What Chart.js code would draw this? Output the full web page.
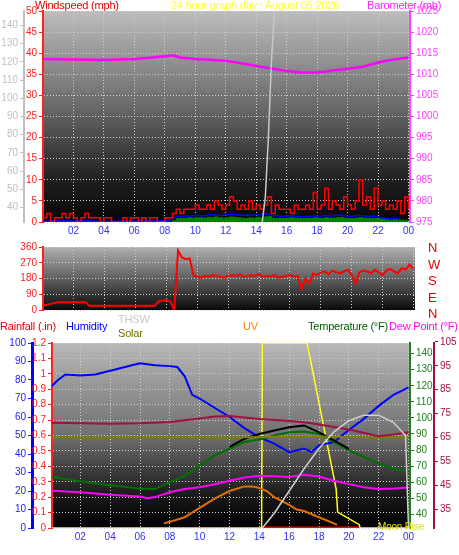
<!DOCTYPE html>
<html><head><meta charset="utf-8">
<script src="https://cdn.jsdelivr.net/npm/chart.js@4.4.1/dist/chart.umd.min.js"></script>
<style>
body{margin:0;background:#fff;width:459px;height:555px;position:relative;overflow:hidden;font-family:"Liberation Sans",Arial,sans-serif}
canvas{position:absolute;left:0}
.t{position:absolute;font-size:11px;white-space:nowrap;line-height:12px;letter-spacing:-0.2px}
</style></head><body>
<canvas id="top" width="459" height="240" style="top:0"></canvas>
<canvas id="mid" width="459" height="80" style="top:238px"></canvas>
<canvas id="bot" width="459" height="220" style="top:335px"></canvas>
<div class="t" style="left:35px;top:-1px;color:#e00000">Windspeed (mph)</div>
<div class="t" style="left:171px;top:-1px;color:#ffff30">24 hour graph day : August 05 2026</div>
<div class="t" style="left:367px;top:-1px;color:#ff20ff">Barometer (mb)</div>
<div class="t" style="left:428px;top:240px;color:#e00000;font-size:13px;line-height:16.5px">N<br>W<br>S<br>E<br>N</div>
<div class="t" style="left:0;top:320px;color:#e00000">Rainfall (.in)</div>
<div class="t" style="left:66px;top:320px;color:#0000ff">Humidity</div>
<div class="t" style="left:118px;top:313px;color:#c8c8c8">THSW</div>
<div class="t" style="left:118px;top:327px;color:#707000">Solar</div>
<div class="t" style="left:243px;top:320px;color:#ff8000">UV</div>
<div class="t" style="left:308px;top:320px;color:#006000">Temperature (°F)</div>
<div class="t" style="left:389px;top:320px;color:#ff00ff">Dew Point (°F)</div>
<div class="t" style="left:378px;top:521px;color:#e0e000;font-size:10px">Moon Rise</div>
<script>
// ---- data (hours 0..24) ----
const windStep = 0.25;
const windSpeed = [1,2,0,1,1,2,1,2,1,0,1,2,1,1,1,0,1,1,0,0,0,1,0,1,1,0,1,0,1,1,0,0,1,1,
  2,3,2,3,3,3,4,3,3,4,3,5,4,3,4,6,5,3,4,3,5,3,4,3,4,6,2,4,3,3,3,2,4,3,3,4,3,7,3,4,8,3,5,4,3,6,4,3,5,10,4,6,3,8,4,5,3,4,3,5,2,6,3];
const windAvg = [0.3,0.3,0.2,0.3,0.3,0.3,0.3,0.3,0.2,0.2,0.3,0.3,0.3,0.3,0.2,0.2,0.2,0.2,0.2,0.2,0.2,0.2,0.2,0.2,0.2,0.2,0.2,0.2,0.2,0.3,0.3,0.3,0.3,0.4,
  0.8,1.2,1.4,1.3,1.5,1.4,1.6,1.5,1.4,1.6,1.7,1.8,1.6,1.5,1.7,1.8,1.9,1.7,1.6,1.5,1.7,1.6,1.8,1.7,1.9,2.0,1.6,1.5,1.4,1.3,1.4,1.5,1.4,1.3,1.2,1.4,1.3,1.5,1.4,1.3,1.6,1.5,1.4,1.6,1.7,1.5,1.4,1.3,1.5,1.6,1.4,1.5,1.3,1.4,1.2,1.0,0.9,0.8,0.9,0.7,0.6,0.5,0.5];
const windLow = [0,0,0,0,0,0,0,0,0,0,0,0,0,0,0,0,0,0,0,0,0,0,0,0,0,0,0,0,0,0,0,0,0,0,
  0.3,0.8,0.9,0.8,1.0,0.9,1.0,1.0,0.9,1.1,1.0,1.2,1.0,0.9,1.0,1.2,1.1,1.0,0.9,0.8,1.0,0.9,1.1,1.0,1.2,1.3,0.9,0.8,0.9,0.8,0.9,1.0,0.9,0.8,0.8,0.9,0.8,1.0,0.9,0.8,1.0,0.9,0.9,1.0,1.1,0.9,0.8,0.8,0.9,1.0,0.9,0.9,0.8,0.8,0.7,0.6,0.5,0.4,0.5,0.4,0.3,0.3,0.3];
const windDir = [25,30,35,40,45,45,45,45,45,45,45,45,25,25,25,25,25,25,25,25,25,25,25,25,25,25,25,25,25,25,50,55,55,50,0,340,300,290,295,200,
  190,185,195,190,200,195,190,185,195,200,195,205,190,195,200,195,205,190,195,190,200,185,190,195,200,190,195,
  120,180,150,210,200,215,220,205,225,215,210,220,230,200,150,215,225,220,210,230,215,200,225,235,220,210,240,230,260,235];
const baroHours = [0,2,4,6,7,8,8.5,9,10,12,13,14,15,15.5,16,17,18,18.5,19,20,21,22,23,24];
const baroVals = [1013.6,1013.5,1013.4,1013.6,1013.9,1014.3,1014.5,1014.0,1013.6,1013.2,1012.6,1012.0,1011.4,1011.1,1010.8,1010.4,1010.5,1010.6,1010.9,1011.3,1011.8,1012.8,1013.5,1014.0];
const thswSpikeHours = [14.4,14.6,14.8,15.0,15.2];
const thswSpikeVals = [0,6,20,38,50];

const humHours = [0,0.5,1,2,3,4,5,6,7,8,8.5,9,9.5,10,11,12,13,14,15,16,17,17.5,18,19,20,21,22,23,24];
const humVals = [76,80,83,82.5,83,85,87,89,88,87.5,87,82,72,70,65,60,54,49,45.6,41,43,41,44.7,46.5,53,59,66,72,76];
const tempHours = [0,2,4,6,7,8,9,10,11,12,13,14,15,16,17,18,19,20,21,22,23,24];
const tempVals = [63.3,60.6,58.1,56,55.7,60,64,70.5,76.7,80.8,85,86.6,89,91,91.5,90,85,79.8,75.7,71.5,68.4,66.4];
const thswHours = [12,13,14,15,16,17,18,19,20];
const thswVals = [82,87,90,92.2,94.2,95.3,91,86,80.8];
const solarHours = [0,3,6,9,12,15,18,21,24];
const solarVals = [88,87.8,88,88,87.8,88.2,88.4,88,88];
const inTempHours = [0,2,4,6,8,10,11,12,14,16,17,18,20,22,23,24];
const inTempVals = [71.2,71,70.8,71,71.5,73,73.8,74,72.8,72,71.4,70.5,68.4,65.6,66.3,67.3];
const dewHours = [0,2,4,6,6.5,7,8,9,10,11,12,13,14,15,16,17,18,19,20,21,22,23,24];
const dewVals = [42.9,42.2,41.2,40.4,39.7,40.2,42.2,43.6,44.3,45.6,47,48.4,49.1,48.9,48.6,49.5,48.8,47,45.6,44.3,43.6,43.8,44.2];
const uvHours = [7.6,8,9,10,11,12,13,13.5,14,14.5,15,16,16.5,17,18,19,19.2];
const uvVals = [0.03,0.04,0.07,0.13,0.19,0.24,0.27,0.27,0.26,0.24,0.2,0.15,0.12,0.11,0.07,0.03,0.02];
const solarRadHours = [0,14.15,14.2,17.2,19.15,19.25,20.7,20.75,24];
const solarRadVals = [0,0,100,100,21,8.6,1.8,0,0];
const moonHours = [14.2,15,16,17,18,19,20,21,22,23,23.8,24];
const moonVals = [0,8,20,32,43,52,58,61,61,57,50,0];
const rainHours = [14.2,20.7];
const rainVals = [0,0];
const xTicks = [2,4,6,8,10,12,14,16,18,20,22,24];

const pts = (h, v) => h.map((x, i) => ({ x, y: v[i] }));
const stepPts = v => v.map((y, i) => ({ x: i * windStep, y }));
const FONT = { family: 'Liberation Sans', size: 10 };
const pad = v => String(v % 24).padStart(2, '0');

const bgPlugin = {
  id: 'bg',
  beforeDraw(c, a, o) {
    const { ctx, chartArea: ca } = c;
    const g = ctx.createLinearGradient(0, ca.top, 0, ca.bottom);
    o.stops.forEach(s => g.addColorStop(s[0], s[1]));
    ctx.save(); ctx.fillStyle = g; ctx.fillRect(ca.left, ca.top, ca.right - ca.left, ca.bottom - ca.top); ctx.restore();
  }
};
const fixW = w => s => { s.width = w; };
const fixH = h => s => { s.height = h; };
const xAxis = (min, max, show) => ({
  type: 'linear', min, max, afterFit: fixH(show ? 18 : 0),
  afterBuildTicks: s => { s.ticks = xTicks.map(v => ({ value: v })); },
  ticks: { display: show, color: '#3030ff', font: FONT, callback: v => pad(v), maxRotation: 0, autoSkip: false },
  grid: { color: '#cfcfcf', drawTicks: false }, border: { display: false, dash: [1, 2] }
});
const yAxis = (pos, min, max, step, color, w, weight, grid, extra) => Object.assign({
  position: pos, min, max, weight, afterFit: fixW(w),
  ticks: { stepSize: step, color, font: FONT, padding: 2, callback: v => String(v) },
  grid: { display: true, drawOnChartArea: grid, color: '#cfcfcf', tickColor: color, tickLength: 4 },
  border: { color, width: 2, dash: grid ? [1, 2] : [] }
}, extra || {});
const line = (data, color, axis, w, more) => Object.assign({ data, borderColor: color, yAxisID: axis, borderWidth: w || 1.5, pointRadius: 0, tension: 0, fill: false }, more || {});
const base = (scales, stops, padding) => ({
  responsive: false, animation: false, parsing: false, normalized: true,
  layout: { padding },
  plugins: { legend: { display: false }, tooltip: { enabled: false }, bg: { stops } },
  scales
});

new Chart(document.getElementById('top'), {
  type: 'line', plugins: [bgPlugin],
  data: { datasets: [
    line(pts(thswSpikeHours, thswSpikeVals), '#c8c8c8', 'yW', 1.5),
    line(pts(baroHours, baroVals), '#ff00ff', 'yB', 2.5),
    line(stepPts(windLow), '#008000', 'yW', 1, { fill: 'origin', backgroundColor: '#008000', stepped: true }),
    line(stepPts(windSpeed), '#ff0000', 'yW', 1.5, { stepped: true }),
    line(stepPts(windAvg), '#0000ff', 'yW', 1.5)
  ] },
  options: base({
    x: xAxis(0, 24.1, true),
    yG: yAxis('left', 32, 148, 10, '#c0c0c0', 24, 2, false, {
      afterBuildTicks: s => { s.ticks = [40,50,60,70,80,90,100,110,120,130,140].map(v => ({ value: v })); } }),
    yW: yAxis('left', 0, 50, 5, '#ff2020', 19, 1, true),
    yB: yAxis('right', 975, 1025, 5, '#ff40ff', 49, 1, false)
  }, [[0, '#bdbdbd'], [0.45, '#6a6a6a'], [0.8, '#202020'], [1, '#050505']], { top: 11 })
});

new Chart(document.getElementById('mid'), {
  type: 'line', plugins: [bgPlugin],
  data: { datasets: [ line(stepPts(windDir), '#ff0000', 'yD', 2) ] },
  options: base({
    x: xAxis(0, 24.1, false),
    yD: yAxis('left', 0, 360, 90, '#ff2020', 43, 1, true)
  }, [[0, '#b0b0b0'], [0.5, '#606060'], [1, '#0a0a0a']], { top: 9, right: 44, bottom: 8 })
});

new Chart(document.getElementById('bot'), {
  type: 'line', plugins: [bgPlugin],
  data: { datasets: [
    line(pts(moonHours, moonVals), '#d0d0d0', 'yH', 1.5),
    line(pts(inTempHours, inTempVals), '#a01040', 'yP', 2),
    line(pts(solarHours, solarVals), '#808000', 'yT', 2),
    line(pts(thswHours, thswVals), '#000000', 'yT', 2),
    line(pts(tempHours, tempVals), '#007000', 'yT', 2),
    line(pts(dewHours, dewVals), '#ff00ff', 'yP', 2),
    line(pts(uvHours, uvVals), '#e07000', 'yR', 2),
    line(pts(humHours, humVals), '#0000ff', 'yH', 2),
    line(pts(solarRadHours, solarRadVals), '#ffff20', 'yH', 1.5),
    line(pts(rainHours, rainVals), '#ff0000', 'yR', 3)
  ] },
  options: base({
    x: xAxis(0.1, 24.1, true),
    yH: yAxis('left', 0, 100, 10, '#2020ff', 32, 2, false, { border: { color: '#0000ff', width: 3 } }),
    yR: yAxis('left', 0, 1.2, 0.1, '#ff2020', 20, 1, true, {
      ticks: { stepSize: 0.1, color: '#ff2020', font: FONT, padding: 2, callback: v => String(Math.round(v * 10) / 10) } }),
    yT: yAxis('right', 31.5, 146.6, 10, '#208020', 24, 1, false, {
      afterBuildTicks: s => { s.ticks = [40,50,60,70,80,90,100,110,120,130,140].map(v => ({ value: v })); } }),
    yP: yAxis('right', 27.3, 104.5, 5, '#a01040', 25, 2, false, {
      afterBuildTicks: s => { s.ticks = [35,40,45,50,55,60,65,70,75,80,85,90,95,100,105].map(v => ({ value: v })); } })
  }, [[0, '#b8b8b8'], [0.5, '#707070'], [0.82, '#1a1a1a'], [1, '#000']], { top: 8, bottom: 9 })
});
</script>
</body></html>
